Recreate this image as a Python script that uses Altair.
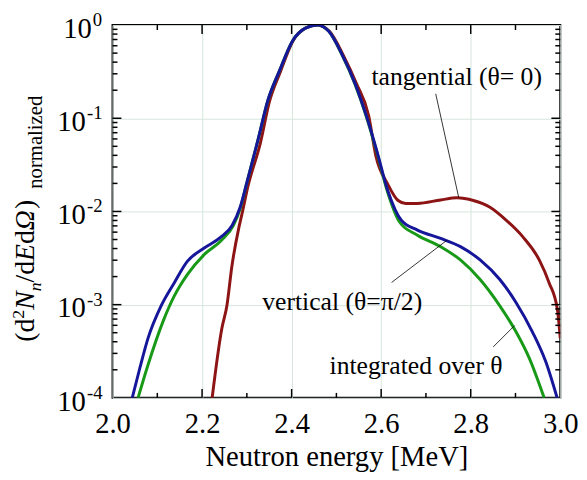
import altair as alt
import pandas as pd

# ---- data ----
vert_E = [2.044, 2.061, 2.079, 2.109, 2.138, 2.167, 2.204, 2.241, 2.267, 2.285, 2.300,
          2.325, 2.347, 2.373, 2.402, 2.432, 2.4575, 2.483, 2.5125, 2.542, 2.5675, 2.5895,
          2.615, 2.645, 2.681, 2.733, 2.777, 2.821, 2.865, 2.9015, 2.938, 2.9675, 2.993]
vert_v = [1.0e-4, 2.09e-4, 4.32e-4, 9.8e-4, 1.72e-3, 2.91e-3, 4.03e-3, 5.27e-3, 7.08e-3, 1.11e-2, 2.04e-2,
          5.89e-2, 0.156, 0.324, 0.676, 0.933, 1.0, 0.857, 0.485, 0.234, 0.104, 4.61e-2,
          1.66e-2, 8.04e-3, 6.31e-3, 5.13e-3, 4.19e-3, 3.02e-3, 1.86e-3, 1.05e-3, 5.08e-4, 2.45e-4, 1.0e-4]

integ_E = [2.057, 2.079, 2.112, 2.138, 2.167, 2.204, 2.244, 2.270, 2.285, 2.300,
           2.325, 2.347, 2.373, 2.402, 2.432, 2.4575, 2.483, 2.5125, 2.542, 2.5675, 2.5895,
           2.615, 2.641, 2.681, 2.733, 2.777, 2.821, 2.865, 2.9015, 2.931, 2.964]
integ_v = [1.0e-4, 2.24e-4, 6.46e-4, 1.24e-3, 2.10e-3, 3.42e-3, 4.93e-3, 7.11e-3, 1.07e-2, 2.04e-2,
           5.89e-2, 0.155, 0.324, 0.676, 0.933, 1.0, 0.857, 0.479, 0.229, 0.102, 4.47e-2,
           1.58e-2, 7.71e-3, 5.57e-3, 4.19e-3, 3.02e-3, 1.86e-3, 9.7e-4, 5.08e-4, 2.65e-4, 1.0e-4]

tang_E = [2.2225, 2.244, 2.2555, 2.2665, 2.281, 2.2885, 2.303, 2.330, 2.350, 2.375, 2.403,
          2.432, 2.4575, 2.485, 2.515, 2.545, 2.572, 2.588, 2.615, 2.637, 2.655, 2.681,
          2.733, 2.769, 2.806, 2.843, 2.8795, 2.916, 2.953, 2.975, 2.9935, 3.0]
tang_v = [1.0e-4, 5.5e-4, 9.8e-4, 2.57e-3, 6.31e-3, 9.12e-3, 1.91e-2, 5.37e-2, 0.148, 0.316, 0.676,
          0.933, 1.0, 0.851, 0.479, 0.234, 0.107, 3.98e-2, 1.95e-2, 1.32e-2, 1.22e-2, 1.22e-2,
          1.33e-2, 1.40e-2, 1.31e-2, 1.11e-2, 8.04e-3, 5.37e-3, 3.02e-3, 1.72e-3, 8.9e-4, 4.37e-4]

series_names = ["tangential", "integrated", "vertical"]
series_colors = ["#8c1414", "#189a18", "#16169a"]

# annotations
ann_text = ["tangential (θ= 0)", "vertical (θ=π/2)", "integrated over θ"]
ann_E = [2.7687, 2.513, 2.678]
ann_v = [0.275, 1.06e-3, 2.18e-4]
lead_E1 = [2.7218, 2.6233, 2.8502]
lead_v1 = [0.183, 1.73e-3, 3.52e-4]
lead_E2 = [2.7731, 2.7474, 2.898]
lead_v2 = [0.01417, 4.93e-3, 5.97e-4]

x_ticks = [2.0, 2.2, 2.4, 2.6, 2.8, 3.0]
x_minor = [2.1, 2.3, 2.5, 2.7, 2.9]
x_inner = [2.2, 2.4, 2.6, 2.8]
y_ticks = [1e-4, 1e-3, 1e-2, 1e-1, 1.0]
y_exp = ["-4", "-3", "-2", "-1", "0"]
y_inner = [1e-3, 1e-2, 1e-1]
y_minor = [k * d for d in [1e-4, 1e-3, 1e-2, 1e-1] for k in range(2, 10)]

W, H = 454, 378
FONT = "Liberation Serif, Times New Roman, DejaVu Serif, serif"

rows = []
for name, E, v in [("tangential", tang_E, tang_v), ("integrated", integ_E, integ_v), ("vertical", vert_E, vert_v)]:
    for i, (e, val) in enumerate(zip(E, v)):
        rows.append({"series": name, "E": e, "v": val, "order": i})
df = pd.DataFrame(rows)

xs = alt.Scale(domain=[2.0, 3.0], nice=False, zero=False)
ys = alt.Scale(type="log", domain=[1e-4, 1.0], nice=False)

base = alt.Chart(df)

lines = base.mark_line(strokeWidth=3, clip=True, interpolate="monotone").encode(
    x=alt.X("E:Q", scale=xs, axis=alt.Axis(values=x_ticks, format=".1f", ticks=False, domain=False,
                                           grid=True, gridColor="#d6e6dd", gridWidth=1,
                                           labelFont=FONT, labelFontSize=29, labelColor="black",
                                           labelPadding=12, labelFlush=False, labelOverlap=False,
                                           title="Neutron energy [MeV]", titleFont=FONT,
                                           titleFontSize=29, titleFontWeight="normal",
                                           titleColor="black", titlePadding=5)),
    y=alt.Y("v:Q", scale=ys, axis=alt.Axis(values=y_ticks, labels=False, ticks=False,
                                           domain=False, grid=True, gridColor="#d6e6dd", gridWidth=1,
                                           title=None)),
    color=alt.Color("series:N", scale=alt.Scale(domain=series_names, range=series_colors), legend=None),
    order="order:Q",
    detail="series:N",
)

# y tick labels as 10 + superscript exponent
ylab_df = pd.DataFrame({"v": y_ticks, "exp": y_exp})
ylab_neg = alt.Chart(ylab_df).transform_filter("datum.v < 0.5")
ylab_zero = alt.Chart(ylab_df).transform_filter("datum.v > 0.5")
lab_layers = []
for ch, xoff in [(ylab_neg, -27), (ylab_zero, -21)]:
    lab_layers.append(ch.mark_text(font=FONT, fontSize=29, align="right", baseline="alphabetic",
                                   dy=13, color="black").encode(
        y=alt.Y("v:Q", scale=ys), x=alt.value(xoff), text=alt.value("10")))
    lab_layers.append(ch.mark_text(font=FONT, fontSize=19, align="left", baseline="alphabetic",
                                   dy=1, dx=1, color="black").encode(
        y=alt.Y("v:Q", scale=ys), x=alt.value(xoff), text="exp:N"))

# ticks (inward)
def rule(dfv, **enc):
    return alt.Chart(dfv).mark_rule(color="black", strokeWidth=1.5).encode(**enc)

tick_layers = [
    rule(pd.DataFrame({"E": x_inner}), x=alt.X("E:Q", scale=xs), y=alt.value(H), y2=alt.value(H - 9)),
    rule(pd.DataFrame({"E": x_minor}), x=alt.X("E:Q", scale=xs), y=alt.value(H), y2=alt.value(H - 5)),
    rule(pd.DataFrame({"E": x_inner}), x=alt.X("E:Q", scale=xs), y=alt.value(0), y2=alt.value(9)),
    rule(pd.DataFrame({"E": x_minor}), x=alt.X("E:Q", scale=xs), y=alt.value(0), y2=alt.value(5)),
    rule(pd.DataFrame({"v": y_inner}), y=alt.Y("v:Q", scale=ys), x=alt.value(0), x2=alt.value(9)),
    rule(pd.DataFrame({"v": y_minor}), y=alt.Y("v:Q", scale=ys), x=alt.value(0), x2=alt.value(5)),
    rule(pd.DataFrame({"v": y_inner}), y=alt.Y("v:Q", scale=ys), x=alt.value(W), x2=alt.value(W - 9)),
    rule(pd.DataFrame({"v": y_minor}), y=alt.Y("v:Q", scale=ys), x=alt.value(W), x2=alt.value(W - 5)),
]

ann_df = pd.DataFrame({"E": ann_E, "v": ann_v, "text": ann_text})
ann = alt.Chart(ann_df).mark_text(font=FONT, fontSize=26, color="black", align="center", baseline="middle").encode(
    x=alt.X("E:Q", scale=xs), y=alt.Y("v:Q", scale=ys), text="text:N")

lead_df = pd.DataFrame({"E1": lead_E1, "v1": lead_v1, "E2": lead_E2, "v2": lead_v2})
leads = alt.Chart(lead_df).mark_rule(color="black", strokeWidth=0.8).encode(
    x=alt.X("E1:Q", scale=xs), y=alt.Y("v1:Q", scale=ys), x2="E2:Q", y2="v2:Q")

# y title built from pieces (rotated), reading bottom to top
one = pd.DataFrame({"a": [0]})
title_pieces = [
    # text, italic, size, baseline shift (screen x), advance
    ("(d", False, 28, 0, 23.3),
    ("2", False, 18, -10, 9.0),
    ("N", True, 28, 0, 18.7),
    ("n", True, 18, 7, 9.0),
    ("/d", False, 28, 0, 21.8),
    ("E", True, 28, 0, 17.1),
    ("d", False, 28, 0, 14.0),
    ("Ω", True, 28, 0, 21.5),
    (")", False, 28, 0, 9.3),
]
title_layers = []
ypos = 321.0
base_x = -80
for txt, ital, size, shift, adv in title_pieces:
    title_layers.append(alt.Chart(one).mark_text(
        font=FONT, fontSize=size, fontStyle="italic" if ital else "normal", angle=270,
        align="left", baseline="alphabetic", color="black").encode(
        x=alt.value(base_x + shift), y=alt.value(ypos), text=alt.value(txt)))
    ypos -= adv
title_layers.append(alt.Chart(one).mark_text(
    font=FONT, fontSize=21, angle=270, align="left", baseline="alphabetic", color="black").encode(
    x=alt.value(-72), y=alt.value(166), text=alt.value("normalized")))

chart = alt.layer(
    lines, leads, ann, *tick_layers, *lab_layers, *title_layers,
).properties(
    width=W, height=H,
    autosize=alt.AutoSizeParams(type="none"),
    padding={"left": 106, "top": 14, "right": 19, "bottom": 80},
).configure_view(stroke="black", strokeWidth=2)

chart.save("out.html", embed_options={"renderer": "svg", "actions": False})
